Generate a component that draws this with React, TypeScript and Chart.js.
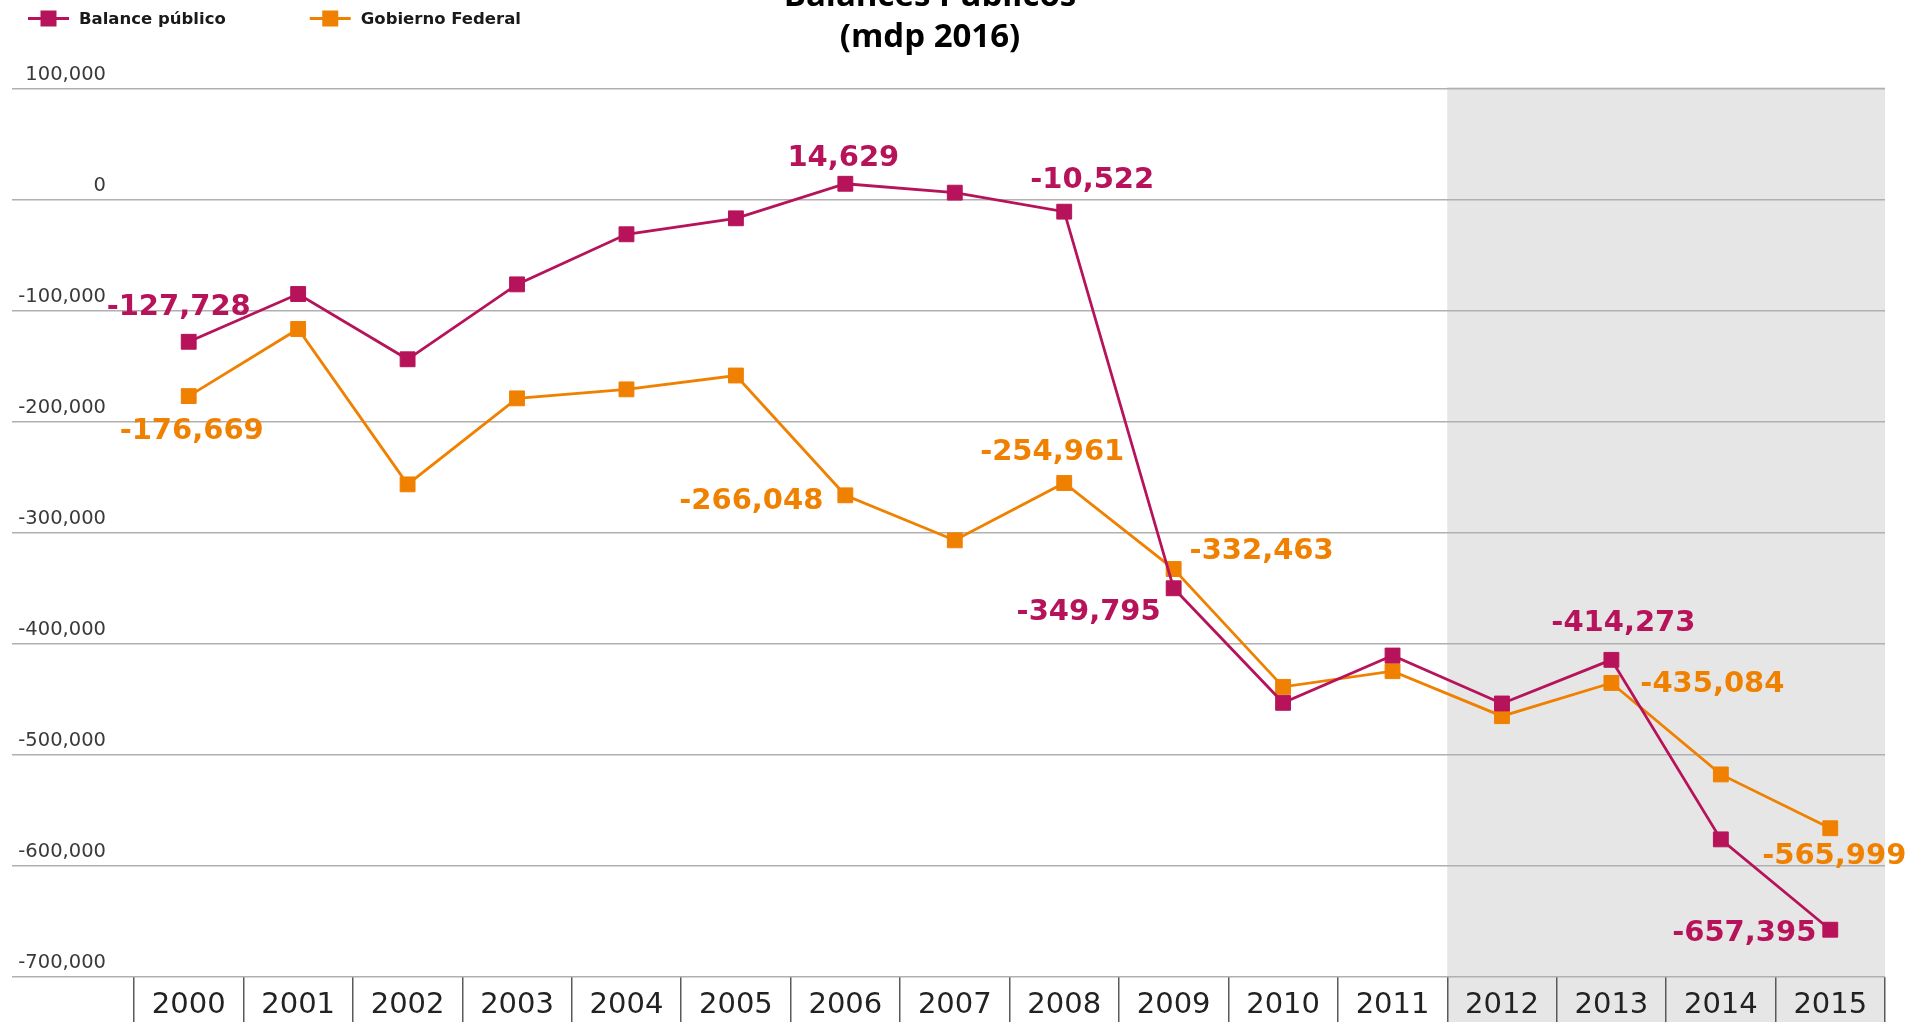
import React, { useEffect, useRef } from 'react';
import { Chart, registerables } from 'chart.js';

Chart.register(...registerables);

// ---------- data ----------
const years = ['2000', '2001', '2002', '2003', '2004', '2005', '2006', '2007', '2008', '2009', '2010', '2011', '2012', '2013', '2014', '2015'];
const balancePublico = [-127728, -84700, -143500, -76000, -30900, -16500, 14629, 6600, -10522, -349795, -453000, -410400, -453600, -414273, -576000, -657395];
const gobiernoFederal = [-176669, -116200, -256200, -178700, -170600, -158100, -266048, -306600, -254961, -332463, -438600, -424500, -465000, -435084, -517500, -565999];
const yTickValues = [100000, 0, -100000, -200000, -300000, -400000, -500000, -600000, -700000];
const seriesNames = ['Balance público', 'Gobierno Federal'];
const titleLines = ['Balances Públicos', '(mdp 2016)'];
const shadedFromYear = '2012';

// ---------- styles ----------
const seriesColors = ['#B7135A', '#F08000'];
const shadeColor = '#E6E6E6';
const gridColor = '#B0B0B0';
const dividerColor = '#5A5A5A';
// data label placement: [seriesIndex, pointIndex, dx, dy] (offset from the point)
const labelPlacements: [number, number, number, number][] = [
  [0, 0, -10, -34],
  [0, 6, -2, -25],
  [0, 8, 28, -31],
  [0, 9, -85, 24],
  [0, 13, 12, -36],
  [0, 15, -86, 4],
  [1, 0, 3, 35],
  [1, 6, -94, 6],
  [1, 8, -12, -31],
  [1, 9, 88, -18],
  [1, 13, 101, 2],
  [1, 15, 4, 28],
];

const fmt = (v: number) => Number(v).toLocaleString('en-US');

const shadePlugin = {
  id: 'shadeRegion',
  beforeDraw(chart: any) {
    const { ctx, chartArea } = chart;
    const x = chart.scales.x;
    const i = years.indexOf(shadedFromYear);
    const left = (x.getPixelForValue(i - 1) + x.getPixelForValue(i)) / 2;
    ctx.save();
    ctx.fillStyle = shadeColor;
    ctx.fillRect(left, chartArea.top - 2, chartArea.right - left, chart.height - chartArea.top + 2);
    ctx.restore();
  },
};

const dataLabelPlugin = {
  id: 'pointLabels',
  afterDatasetsDraw(chart: any) {
    const { ctx } = chart;
    ctx.save();
    ctx.font = 'bold 29px "DejaVu Sans"';
    ctx.textAlign = 'center';
    ctx.textBaseline = 'middle';
    labelPlacements.forEach(([s, i, dx, dy]) => {
      const pt = chart.getDatasetMeta(s).data[i];
      const val = chart.data.datasets[s].data[i];
      ctx.fillStyle = seriesColors[s];
      ctx.fillText(fmt(val), pt.x + dx, pt.y + dy);
    });
    ctx.restore();
  },
};

const headerPlugin = {
  id: 'header',
  afterDraw(chart: any) {
    const { ctx } = chart;
    ctx.save();
    // title
    ctx.fillStyle = '#000';
    ctx.font = 'bold 33px "Open Sans"';
    ctx.textAlign = 'center';
    ctx.textBaseline = 'alphabetic';
    ctx.fillText(titleLines[0], 930, 6);
    ctx.fillText(titleLines[1], 930, 47);
    // legend
    ctx.font = 'bold 16.5px "DejaVu Sans"';
    ctx.textAlign = 'left';
    ctx.textBaseline = 'middle';
    const y = 18.5;
    let x = 28;
    chart.data.datasets.forEach((ds: any, i: number) => {
      const c = seriesColors[i];
      ctx.strokeStyle = c;
      ctx.lineWidth = 3;
      ctx.beginPath();
      ctx.moveTo(x, y);
      ctx.lineTo(x + 41, y);
      ctx.stroke();
      ctx.fillStyle = c;
      ctx.fillRect(x + 12.5, y - 8, 16, 16);
      ctx.fillStyle = '#1a1a1a';
      ctx.fillText(ds.label, x + 51, y + 1);
      x += 51 + ctx.measureText(ds.label).width + 84;
    });
    ctx.restore();
  },
};

export default function App() {
  const ref = useRef<HTMLCanvasElement | null>(null);

  useEffect(() => {
    if (!ref.current) return;
    const mk = (i: number, data: number[]) => ({
      label: seriesNames[i],
      data,
      borderColor: seriesColors[i],
      backgroundColor: seriesColors[i],
      borderWidth: 2.8,
      pointStyle: 'rect',
      pointRadius: 10.5,
      pointBorderWidth: 1,
      pointBackgroundColor: seriesColors[i],
      pointBorderColor: seriesColors[i],
      tension: 0,
    });
    const chart = new Chart(ref.current, {
      type: 'line',
      data: {
        labels: years,
        datasets: [mk(0, balancePublico), mk(1, gobiernoFederal)],
      },
      options: {
        animation: false,
        responsive: false,
        layout: { padding: { top: 89, left: 0, right: 24, bottom: 0 } },
        plugins: {
          legend: { display: false },
          title: { display: false },
          tooltip: { enabled: false },
        },
        scales: {
          x: {
            type: 'category',
            offset: true,
            border: { display: false },
            grid: {
              offset: true,
              drawOnChartArea: false,
              drawTicks: true,
              tickLength: 45,
              color: dividerColor,
              lineWidth: 1.5,
            },
            ticks: {
              autoSkip: false,
              maxRotation: 0,
              padding: -34,
              color: '#222',
              font: { family: '"DejaVu Sans"', size: 29 },
            },
            afterFit: (s: any) => {
              s.height = 45;
              s.paddingLeft = 0;
              s.paddingRight = 0;
            },
          },
          y: {
            type: 'linear',
            position: 'left',
            min: -700000,
            max: 100000,
            border: { display: false },
            grid: {
              color: gridColor,
              lineWidth: 1.6,
              drawTicks: true,
              tickLength: 122,
            },
            afterBuildTicks: (s: any) => {
              s.ticks = yTickValues.map((v) => ({ value: v }));
            },
            ticks: {
              padding: -94,
              labelOffset: -14,
              color: '#3a3a3a',
              font: { family: '"DejaVu Sans"', size: 19.5 },
              callback: (v: any) => fmt(v),
            },
            afterFit: (s: any) => {
              s.width = 134;
              s.paddingTop = 0;
              s.paddingBottom = 0;
            },
          },
        },
      },
      plugins: [shadePlugin, dataLabelPlugin, headerPlugin],
    });
    return () => chart.destroy();
  }, []);

  return (
    <div style={{ position: 'absolute', left: 0, top: 0, width: 1909, height: 1022, background: '#fff' }}>
      <canvas ref={ref} width={1909} height={1022} style={{ display: 'block', width: 1909, height: 1022 }} />
    </div>
  );
}
